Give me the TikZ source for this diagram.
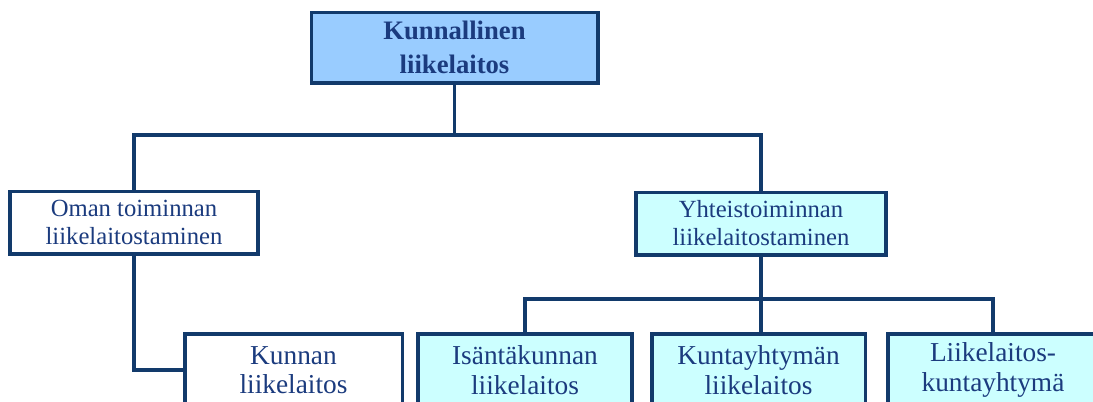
\documentclass[tikz,border=0pt]{standalone}
\usepackage{fontspec}
\setmainfont{Liberation Serif}
\usetikzlibrary{positioning}
\definecolor{navy}{HTML}{123A6B}
\definecolor{textblue}{HTML}{1B3B7E}
\definecolor{topblue}{HTML}{99CCFF}
\definecolor{paleblue}{HTML}{CCFFFF}

\begin{document}
\begin{tikzpicture}[
    x=0.75pt, y=-0.75pt,
    box/.style={rectangle, draw=navy, line width=2.5pt, text=textblue, align=center, inner sep=0pt},
    mainbox/.style={box, fill=topblue, minimum width=215pt, minimum height=53pt, font=\fontsize{20}{25}\selectfont\bfseries},
    midbox/.style={box, minimum width=186pt, minimum height=47pt, font=\fontsize{18.5}{21}\selectfont},
    lowbox/.style={box, minimum width=161pt, minimum height=54pt, font=\fontsize{20.5}{22}\selectfont},
    link/.style={draw=navy, line width=2.5pt}
]
\useasboundingbox (0,0) rectangle (1093,401);
\clip (0,0) rectangle (1093,401);

% ylin taso
\node[mainbox] (kunnallinen) at (454.5,47.5) {Kunnallinen\\liikelaitos};

% keskitaso
\node[midbox, fill=white] (oman) at (134,222.5) {Oman toiminnan\\liikelaitostaminen};
\node[midbox, fill=paleblue, minimum width=187.5pt] (yhteis) at (761,223.5) {Yhteistoiminnan\\liikelaitostaminen};

% alin taso
\node[lowbox, fill=white, minimum width=163pt] (kunnan) at (293.5,370) {Kunnan\\liikelaitos};
\node[lowbox, fill=paleblue, minimum width=160.5pt] (isanta) at (525,370) {Isäntäkunnan\\liikelaitos};
\node[lowbox, fill=paleblue, minimum width=160pt] (kuntayht) at (758.5,370) {Kuntayhtymän\\liikelaitos};
\node[lowbox, fill=paleblue, minimum width=157.5pt] (liike) at (993,370) {Liikelaitos-\\kuntayhtymä};

% haarautumispisteet
\coordinate (hub1) at (454.5,135);
\coordinate (hub2) at (761,299);

% yhteydet
\draw[link] (kunnallinen) -- (hub1);
\draw[link] (hub1) -| (oman);
\draw[link] (hub1) -| (yhteis);
\draw[link] (oman) |- (kunnan);

\draw[link] (yhteis) -- (hub2);
\draw[link] (hub2) -| (isanta);
\draw[link] (hub2) -- (hub2 |- kuntayht.north);
\draw[link] (hub2) -| (liike);

\end{tikzpicture}
\end{document}
